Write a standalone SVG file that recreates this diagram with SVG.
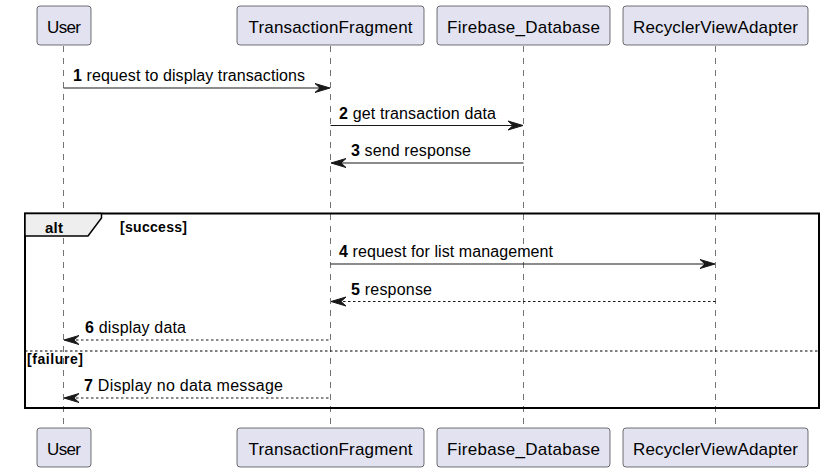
<svg xmlns="http://www.w3.org/2000/svg" width="828" height="474" viewBox="0 0 828 474">
<style>
.p rect{fill:#E2E2F0;stroke:#181818;stroke-width:0.6}
.p text{font-family:"Liberation Sans",Arial,sans-serif;font-size:17px;fill:#000;text-anchor:middle}
.life{stroke:#181818;stroke-width:0.6;stroke-dasharray:6,6;fill:none}
.msg{stroke:#181818;stroke-width:1.2;fill:none}
.dash{stroke-dasharray:2.5,2.5}
.ah{fill:#181818;stroke:#181818;stroke-width:1}
.lbl{font-family:"Liberation Sans",Arial,sans-serif;font-size:16px;fill:#000}
.lbl tspan{font-weight:bold}
.frame{fill:none;stroke:#000;stroke-width:2}
.sep{stroke:#000;stroke-width:1.2;stroke-dasharray:2.5,2.5}
.fl{font-family:"Liberation Sans",Arial,sans-serif;font-weight:bold;fill:#000}
</style>
<rect width="828" height="474" fill="#fff"/>
<g id="lifelines">
<line class="life" x1="63.5" y1="46" x2="63.5" y2="428"/>
<line class="life" x1="330.5" y1="46" x2="330.5" y2="428"/>
<line class="life" x1="523.5" y1="46" x2="523.5" y2="428"/>
<line class="life" x1="715.5" y1="46" x2="715.5" y2="428"/>
</g>
<g id="alt-frame">
<rect class="frame" x="25" y="213.5" width="794" height="194.5"/>
<path d="M25,213.5 L101.5,213.5 L101.5,218 L88,236 L25,236 Z" fill="#EEEEEE" stroke="#000" stroke-width="1.5"/>
<text class="fl" x="45" y="233" font-size="15" textLength="18">alt</text>
<text class="fl" x="120" y="231.5" font-size="14" textLength="67">[success]</text>
<line class="sep" x1="25" y1="351" x2="819" y2="351"/>
<text class="fl" x="27" y="364" font-size="14" textLength="56">[failure]</text>
</g>
<g id="User" class="p"><rect x="37" y="6" width="54" height="39" rx="3"/><text x="64" y="33" textLength="34">User</text></g>
<g id="TransactionFragment" class="p"><rect x="237" y="6" width="187" height="39" rx="3"/><text x="330.5" y="33" textLength="164">TransactionFragment</text></g>
<g id="Firebase_Database" class="p"><rect x="437" y="6" width="173" height="39" rx="3"/><text x="523.5" y="33" textLength="153">Firebase_Database</text></g>
<g id="RecyclerViewAdapter" class="p"><rect x="623" y="6" width="185" height="39" rx="3"/><text x="715.5" y="33" textLength="165">RecyclerViewAdapter</text></g>
<g id="User-bottom" class="p"><rect x="37" y="428" width="54" height="39" rx="3"/><text x="64" y="455" textLength="34">User</text></g>
<g id="TransactionFragment-bottom" class="p"><rect x="237" y="428" width="187" height="39" rx="3"/><text x="330.5" y="455" textLength="164">TransactionFragment</text></g>
<g id="Firebase_Database-bottom" class="p"><rect x="437" y="428" width="173" height="39" rx="3"/><text x="523.5" y="455" textLength="153">Firebase_Database</text></g>
<g id="RecyclerViewAdapter-bottom" class="p"><rect x="623" y="428" width="185" height="39" rx="3"/><text x="715.5" y="455" textLength="165">RecyclerViewAdapter</text></g>
<g id="connectors">
<line class="msg" x1="63.5" y1="88" x2="328" y2="88"/>
<polygon class="ah" points="315,83.5 330,88 315,92.5 320,88"/>
<text class="lbl" x="73" y="81" textLength="232"><tspan>1</tspan> request to display transactions</text>

<line class="msg" x1="330.5" y1="125.5" x2="521" y2="125.5"/>
<polygon class="ah" points="508,121 523,125.5 508,130 513,125.5"/>
<text class="lbl" x="339" y="119" textLength="157"><tspan>2</tspan> get transaction data</text>

<line class="msg" x1="333" y1="163" x2="523.5" y2="163"/>
<polygon class="ah" points="346,158.5 331,163 346,167.5 341,163"/>
<text class="lbl" x="351" y="156" textLength="120"><tspan>3</tspan> send response</text>

<line class="msg" x1="330.5" y1="264" x2="713" y2="264"/>
<polygon class="ah" points="700,259.5 715,264 700,268.5 705,264"/>
<text class="lbl" x="339" y="257" textLength="214"><tspan>4</tspan> request for list management</text>

<line class="msg dash" x1="333" y1="301.5" x2="715.5" y2="301.5"/>
<polygon class="ah" points="346,297 331,301.5 346,306 341,301.5"/>
<text class="lbl" x="351" y="295" textLength="81"><tspan>5</tspan> response</text>

<line class="msg dash" x1="66" y1="340" x2="330.5" y2="340"/>
<polygon class="ah" points="79,335.5 64,340 79,344.5 74,340"/>
<text class="lbl" x="85" y="333" textLength="101"><tspan>6</tspan> display data</text>

<line class="msg dash" x1="66" y1="398" x2="330.5" y2="398"/>
<polygon class="ah" points="79,393.5 64,398 79,402.5 74,398"/>
<text class="lbl" x="84" y="391" textLength="199"><tspan>7</tspan> Display no data message</text>
</g>
</svg>
